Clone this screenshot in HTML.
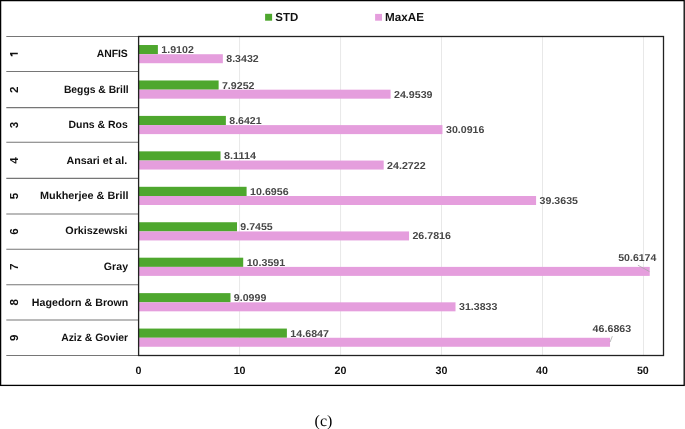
<!DOCTYPE html>
<html><head><meta charset="utf-8">
<style>
html,body{margin:0;padding:0;background:#fff;}
body{width:685px;height:429px;overflow:hidden;position:relative;}
svg{position:absolute;left:0;top:0;will-change:transform;}
text{font-family:"Liberation Sans",sans-serif;font-weight:bold;text-rendering:geometricPrecision;}
.dl{font-size:10.0px;fill:#474747;}
.cat{font-size:10.6px;fill:#111;}
.num{font-size:11.6px;fill:#111;}
.ax{font-size:10.7px;fill:#111;}
.leg{font-size:11.7px;fill:#111;}
.cap{font-family:"Liberation Serif",serif;font-weight:normal;font-size:16px;fill:#000;}
</style></head><body>
<svg width="685" height="429" viewBox="0 0 685 429">
<rect x="0.6" y="0.6" width="683.6" height="384.8" fill="none" stroke="#000" stroke-width="1.3"/>
<line x1="239.58" y1="36.5" x2="239.58" y2="355.5" stroke="#e8e8e8" stroke-width="1"/>
<line x1="340.56" y1="36.5" x2="340.56" y2="355.5" stroke="#e8e8e8" stroke-width="1"/>
<line x1="441.54" y1="36.5" x2="441.54" y2="355.5" stroke="#e8e8e8" stroke-width="1"/>
<line x1="542.52" y1="36.5" x2="542.52" y2="355.5" stroke="#e8e8e8" stroke-width="1"/>
<line x1="643.5" y1="36.5" x2="643.5" y2="355.5" stroke="#e8e8e8" stroke-width="1"/>
<line x1="6.3" y1="36.5" x2="138.6" y2="36.5" stroke="#767676" stroke-width="1.1"/>
<line x1="6.3" y1="71.5" x2="138.6" y2="71.5" stroke="#767676" stroke-width="1.1"/>
<line x1="6.3" y1="107.6" x2="138.6" y2="107.6" stroke="#767676" stroke-width="1.1"/>
<line x1="6.3" y1="142.3" x2="138.6" y2="142.3" stroke="#767676" stroke-width="1.1"/>
<line x1="6.3" y1="178.4" x2="138.6" y2="178.4" stroke="#767676" stroke-width="1.1"/>
<line x1="6.3" y1="213.95" x2="138.6" y2="213.95" stroke="#767676" stroke-width="1.1"/>
<line x1="6.3" y1="249.3" x2="138.6" y2="249.3" stroke="#767676" stroke-width="1.1"/>
<line x1="6.3" y1="284.8" x2="138.6" y2="284.8" stroke="#767676" stroke-width="1.1"/>
<line x1="6.3" y1="320" x2="138.6" y2="320" stroke="#767676" stroke-width="1.1"/>
<line x1="6.3" y1="355.5" x2="138.6" y2="355.5" stroke="#767676" stroke-width="1.1"/>
<rect x="138.6" y="45.02" width="19.29" height="9.2" fill="#4EA72E"/>
<rect x="138.6" y="54.22" width="84.25" height="9.0" fill="#E59EDD"/>
<text x="161.37" y="53.07" class="dl" textLength="32.49" lengthAdjust="spacingAndGlyphs">1.9102</text>
<text x="226.26" y="62.17" class="dl" textLength="32.46" lengthAdjust="spacingAndGlyphs">8.3432</text>
<text x="96.64" y="56.6" class="cat" textLength="31.16" lengthAdjust="spacingAndGlyphs">ANFIS</text>
<path d="M10 52.8H17.8V54.3H12.3L12.7 56.2H11.1L10 53.9Z" fill="#111"/>
<rect x="138.6" y="80.47" width="80.03" height="9.2" fill="#4EA72E"/>
<rect x="138.6" y="89.67" width="251.98" height="9.0" fill="#E59EDD"/>
<text x="221.92" y="88.52" class="dl" textLength="32.58" lengthAdjust="spacingAndGlyphs">7.9252</text>
<text x="393.96" y="97.62" class="dl" textLength="38.57" lengthAdjust="spacingAndGlyphs">24.9539</text>
<text x="63.91" y="92.6" class="cat" textLength="64.82" lengthAdjust="spacingAndGlyphs">Beggs &amp; Brill</text>
<text transform="translate(18 89.67) rotate(-90)" class="num" text-anchor="middle">2</text>
<rect x="138.6" y="115.91" width="87.27" height="9.2" fill="#4EA72E"/>
<rect x="138.6" y="125.11" width="303.86" height="9.0" fill="#E59EDD"/>
<text x="229.28" y="123.96" class="dl" textLength="32.33" lengthAdjust="spacingAndGlyphs">8.6421</text>
<text x="445.97" y="133.06" class="dl" textLength="38.43" lengthAdjust="spacingAndGlyphs">30.0916</text>
<text x="68.5" y="128.25" class="cat" textLength="59.33" lengthAdjust="spacingAndGlyphs">Duns &amp; Ros</text>
<text transform="translate(18 125.11) rotate(-90)" class="num" text-anchor="middle">3</text>
<rect x="138.6" y="151.35" width="81.91" height="9.2" fill="#4EA72E"/>
<rect x="138.6" y="160.55" width="245.1" height="9.0" fill="#E59EDD"/>
<text x="223.93" y="159.4" class="dl" textLength="32.09" lengthAdjust="spacingAndGlyphs">8.1114</text>
<text x="387.08" y="168.5" class="dl" textLength="38.6" lengthAdjust="spacingAndGlyphs">24.2722</text>
<text x="66.43" y="163.6" class="cat" textLength="60.81" lengthAdjust="spacingAndGlyphs">Ansari et al.</text>
<text transform="translate(18 160.55) rotate(-90)" class="num" text-anchor="middle">4</text>
<rect x="138.6" y="186.8" width="108" height="9.2" fill="#4EA72E"/>
<rect x="138.6" y="196" width="397.49" height="9.0" fill="#E59EDD"/>
<text x="250.08" y="194.85" class="dl" textLength="38.56" lengthAdjust="spacingAndGlyphs">10.6956</text>
<text x="539.6" y="203.95" class="dl" textLength="38.34" lengthAdjust="spacingAndGlyphs">39.3635</text>
<text x="39.97" y="199.2" class="cat" textLength="88.59" lengthAdjust="spacingAndGlyphs">Mukherjee &amp; Brill</text>
<text transform="translate(18 196) rotate(-90)" class="num" text-anchor="middle">5</text>
<rect x="138.6" y="222.24" width="98.41" height="9.2" fill="#4EA72E"/>
<rect x="138.6" y="231.44" width="270.44" height="9.0" fill="#E59EDD"/>
<text x="240.39" y="230.29" class="dl" textLength="32.36" lengthAdjust="spacingAndGlyphs">9.7455</text>
<text x="412.42" y="239.39" class="dl" textLength="38.56" lengthAdjust="spacingAndGlyphs">26.7816</text>
<text x="65.26" y="234.25" class="cat" textLength="62.31" lengthAdjust="spacingAndGlyphs">Orkiszewski</text>
<text transform="translate(18 231.44) rotate(-90)" class="num" text-anchor="middle">6</text>
<rect x="138.6" y="257.69" width="104.61" height="9.2" fill="#4EA72E"/>
<rect x="138.6" y="266.89" width="511.13" height="9.0" fill="#E59EDD"/>
<text x="246.69" y="265.74" class="dl" textLength="38.47" lengthAdjust="spacingAndGlyphs">10.3591</text>
<text x="103.86" y="269.9" class="cat" textLength="24.19" lengthAdjust="spacingAndGlyphs">Gray</text>
<text transform="translate(18 266.89) rotate(-90)" class="num" text-anchor="middle">7</text>
<rect x="138.6" y="293.13" width="91.89" height="9.2" fill="#4EA72E"/>
<rect x="138.6" y="302.33" width="316.91" height="9.0" fill="#E59EDD"/>
<text x="233.87" y="301.18" class="dl" textLength="32.46" lengthAdjust="spacingAndGlyphs">9.0999</text>
<text x="459.01" y="310.28" class="dl" textLength="38.43" lengthAdjust="spacingAndGlyphs">31.3833</text>
<text x="31.89" y="305.5" class="cat" textLength="96.47" lengthAdjust="spacingAndGlyphs">Hagedorn &amp; Brown</text>
<text transform="translate(18 302.33) rotate(-90)" class="num" text-anchor="middle">8</text>
<rect x="138.6" y="328.57" width="148.29" height="9.2" fill="#4EA72E"/>
<rect x="138.6" y="337.77" width="471.44" height="9.0" fill="#E59EDD"/>
<text x="290.36" y="336.62" class="dl" textLength="38.64" lengthAdjust="spacingAndGlyphs">14.6847</text>
<text x="61.14" y="341" class="cat" textLength="67.02" lengthAdjust="spacingAndGlyphs">Aziz &amp; Govier</text>
<text transform="translate(18 337.77) rotate(-90)" class="num" text-anchor="middle">9</text>
<text x="618.28" y="261.2" class="dl" textLength="38.08" lengthAdjust="spacingAndGlyphs">50.6174</text>
<line x1="637.9" y1="265.2" x2="649.5" y2="271.6" stroke="#a6a6a6" stroke-width="0.75"/>
<text x="592.64" y="332.1" class="dl" textLength="38.55" lengthAdjust="spacingAndGlyphs">46.6863</text>
<line x1="612.3" y1="336.2" x2="610.1" y2="342" stroke="#a6a6a6" stroke-width="0.75"/>
<rect x="138.6" y="36.5" width="524.9" height="319" fill="none" stroke="#222" stroke-width="1.3"/>
<text x="138.6" y="373.5" class="ax" text-anchor="middle">0</text>
<text x="239.6" y="373.5" class="ax" text-anchor="middle">10</text>
<text x="340.45" y="373.5" class="ax" text-anchor="middle">20</text>
<text x="441.45" y="373.5" class="ax" text-anchor="middle">30</text>
<text x="542.05" y="373.5" class="ax" text-anchor="middle">40</text>
<text x="642.85" y="373.5" class="ax" text-anchor="middle">50</text>
<rect x="265.1" y="13.8" width="7" height="6.9" fill="#4EA72E"/>
<text x="275.37" y="20.9" class="leg" textLength="22.91" lengthAdjust="spacingAndGlyphs">STD</text>
<rect x="375.1" y="13.9" width="6.9" height="6.8" fill="#E59EDD"/>
<text x="385.12" y="21.1" class="leg" textLength="38.94" lengthAdjust="spacingAndGlyphs">MaxAE</text>
<text x="323.5" y="425.7" class="cap" text-anchor="middle">(c)</text>
</svg>
</body></html>
